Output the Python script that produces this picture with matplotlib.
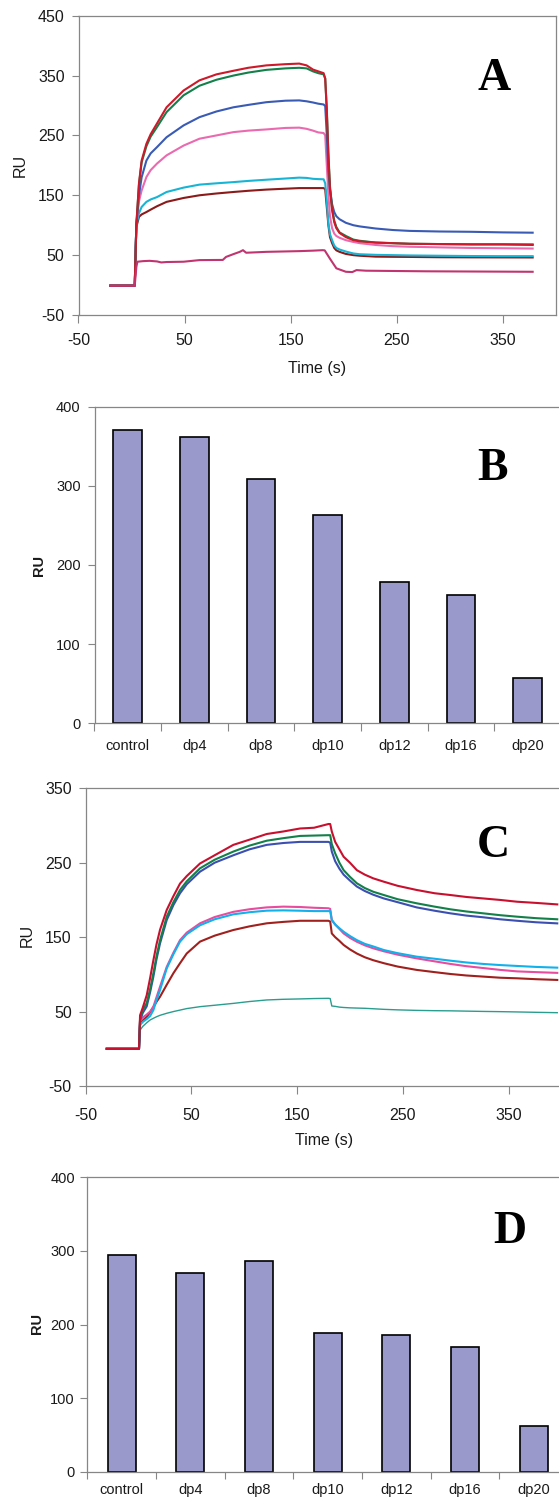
import numpy as np
import matplotlib
matplotlib.use("Agg")
import matplotlib.pyplot as plt

# ---- panel A : sensorgrams (time in s, response in RU)
tA = [-20, 3, 4.5, 7, 9.5, 14, 18, 24, 33, 49, 64, 80, 96, 110, 127, 145, 158, 165, 171, 176,
      181, 182.5, 184, 185.5, 187, 189, 191, 193, 196, 202, 209, 215, 230, 246, 262, 290, 320, 350, 378]
A_red = [-1, -1, 100, 170, 208, 236, 252, 270, 297, 325, 342, 352, 358, 363, 367, 369, 370, 367, 360, 357,
         354, 345, 290, 215, 160, 125, 105, 95, 87, 80, 75, 73, 71, 70, 69, 68.5, 68, 68, 67]
A_green = [-1, -1, 100, 168, 205, 232, 248, 264, 289, 317, 333, 343, 350, 355, 359.5, 362, 363, 362, 357, 354,
           352, 345, 295, 220, 165, 128, 108, 97, 88, 82, 76, 74, 71, 70, 69, 68.5, 68, 68, 68]
A_blue = [-1, -1, 100, 150, 180, 208, 220, 230.5, 247, 266.7, 280.5, 290, 297, 301, 305.5, 308, 308.5, 307, 305, 303,
          301.7, 299, 250, 190, 160, 135, 122, 115, 110, 104, 100, 98, 94.5, 92, 90.5, 89.5, 89, 88, 87.5]
A_pink = [-1, -1, 100, 140, 158, 180.5, 192, 203, 216.7, 233, 244.5, 250, 255.5, 258, 260, 262.5, 263, 261, 258, 255,
          254, 250, 200, 150, 115, 95, 86, 82, 79, 75, 72, 70, 67, 65, 64, 63, 62, 61.5, 61]
A_cyan = [-1, -1, 100, 120, 130.5, 139, 143, 147, 155.5, 162.8, 167.8, 170, 172, 174, 176, 178, 179.5, 179, 177.5, 177,
          176.7, 170, 140, 103, 85, 75, 66, 62, 59.4, 56, 52.8, 51.5, 50.5, 50, 49.5, 49, 48.5, 48.3, 48.3]
A_darkred = [-1, -1, 97, 114, 118, 122, 126, 131.7, 139, 145.5, 150, 153, 155.5, 157.5, 159.5, 161, 162, 162, 162, 162,
             162, 160, 130, 100, 80, 70, 62, 58, 55.5, 52, 50, 49, 47.5, 47.2, 47, 46.5, 46.3, 46.2, 46.1]
tA_low = [-20, 3, 4.5, 5.5, 11, 17, 24, 28, 33, 49, 64, 86, 89, 96, 102, 105, 108, 127, 158, 171,
          180, 182, 187, 193, 202, 208, 212, 221, 278, 378]
A_low = [-1, -1, 30, 39, 40, 40.5, 39.5, 37.8, 38.5, 39, 41.7, 42, 47, 51.7, 55.5, 58.3, 54, 55.5, 56.7, 57.5,
         58.3, 58, 44, 28, 22.2, 21.7, 25, 24, 23, 22.2]

# ---- panel C : sensorgrams
tC = [-30, 0.5, 1.5, 4, 7.8, 11, 14.1, 17, 20.4, 26.7, 33, 39.3, 45.6, 58.2, 72, 89.7, 105, 121.3, 137, 152.8, 166,
      179.6, 181.3, 182.8, 186, 190, 194, 200, 206.5, 214, 222, 232, 245, 263, 280, 295, 310, 326, 342, 358, 376, 396]
C_red = [0, 0, 45, 55, 72, 95, 119, 140, 160, 186.5, 205, 222, 232, 249, 260, 274, 281, 288.6, 292, 296, 297,
         302, 302, 292, 278, 268, 258, 250, 240, 234, 229, 224.5, 219, 213.4, 209, 206.6, 204, 202, 200, 197.6, 196, 194]
C_green = [0, 0, 40, 52, 61.5, 80, 101.5, 124, 146, 177.5, 197, 213.4, 225, 242.5, 254, 265, 273, 279.6, 283, 286, 286.5,
           287, 287, 275, 262.6, 250, 240, 231, 222.4, 216, 211, 206.6, 201, 195.5, 191, 187.4, 184.5, 182, 179.5, 177.5, 175.5, 174]
C_blue = [0, 0, 38, 48, 57, 76, 97, 120, 141.7, 173, 193, 209, 221, 238, 250, 260, 268, 274, 276.5, 278, 278,
          278, 277, 265, 252, 242, 234, 226, 218, 212, 207, 202, 197, 190, 185.5, 182, 179, 176.7, 174, 172, 170, 168.5]
C_pink = [0, 0, 38.7, 42, 46, 50, 56.6, 69, 83.5, 110, 129, 146, 156, 168.6, 177, 184, 187.5, 190, 191, 190.5, 189.5,
          188.8, 188, 173, 167, 161, 155, 149, 143.8, 139, 135, 131, 126.5, 121.5, 117.5, 114, 111, 108.5, 106, 104, 103, 102]
C_cyan = [0, 0, 32, 36, 40, 44, 52, 65, 79, 108, 127, 144, 154, 166, 174, 180.7, 183.5, 185.6, 186, 185.5, 185,
          185, 185, 173, 167, 162, 157.3, 151.5, 146, 141, 137.5, 132.7, 128.5, 123.8, 121, 118.4, 116, 114, 112.5, 111.3, 110, 109]
C_darkred = [0, 0, 34, 38, 43, 49, 56, 63, 70, 86, 101.5, 115, 128, 144, 152, 159.6, 164.5, 168.6, 170.5, 172, 172,
             172, 171, 155, 150, 145, 139.5, 133.5, 128, 123, 119, 115, 110.5, 106, 103, 100.5, 98.5, 97, 95.5, 94.7, 93.5, 92.5]
C_teal = [0, 0, 25, 30, 35, 38.7, 41, 43, 45, 47.7, 50, 52, 54, 56.6, 58.5, 61, 63.5, 65.6, 66.5, 67, 67.5,
          67.8, 67.5, 57.5, 57, 56, 55.5, 55, 54.7, 54.4, 53.8, 53, 52.3, 51.6, 51.2, 51, 50.6, 50.2, 49.9, 49.5, 49, 48.5]

# ---- panels B and D : bar charts
categories = ["control", "dp4", "dp8", "dp10", "dp12", "dp16", "dp20"]
B_values = [370, 362, 309, 263, 179, 162, 57]
D_values = [295, 270, 286, 189, 186, 169, 62]

W, H = 559, 1501
GREY = "#868686"
TXT = "#1a1a1a"
SANS = ["Liberation Sans", "DejaVu Sans"]
SERIF = ["Liberation Serif", "DejaVu Serif"]
plt.rcParams["font.family"] = SANS
plt.rcParams["axes.unicode_minus"] = False


def box(l, t, r, b):
    return [l / W, 1 - b / H, (r - l) / W, (b - t) / H]


def style(ax, fs, xpad, ypad, xlen, ylen):
    for s in ax.spines.values():
        s.set_color(GREY)
        s.set_linewidth(0.9)
    ax.tick_params(axis="x", which="both", direction="out", color=GREY, labelcolor=TXT,
                   labelsize=fs, pad=xpad, length=xlen, width=0.8)
    ax.tick_params(axis="y", which="both", direction="out", color=GREY, labelcolor=TXT,
                   labelsize=fs, pad=ypad, length=ylen, width=0.8)


def ftext(x, y, s, **kw):
    fig.text(x / W, 1 - y / H, s, **kw)


fig = plt.figure(figsize=(W / 100, H / 100), dpi=100)

# ---------------- A
axA = fig.add_axes(box(78.5, 15.7, 556, 315))
for vals, col in [(A_darkred, "#8b1a1a"), (A_cyan, "#18b4d4"), (A_pink, "#ea6aaf"),
                  (A_blue, "#3a5bb5"), (A_green, "#13804a"), (A_red, "#cc1a2a")]:
    axA.plot(tA, vals, color=col, lw=1.5)
axA.plot(tA_low, A_low, color="#c0356f", lw=1.5)
axA.set_xlim(-50, 400)
axA.set_ylim(-50, 450)
axA.set_xticks([-50, 50, 150, 250, 350])
axA.set_yticks(np.arange(-50, 451, 100))
style(axA, 11.5, 7, 5, 6, 5)
ftext(20, 165, "RU", rotation=90, ha="center", va="center", fontsize=11.5, color=TXT)
ftext(317, 368, "Time (s)", ha="center", va="center", fontsize=11.5, color=TXT)
ftext(494, 90, "A", ha="center", va="baseline", fontsize=33, fontweight="bold", family=SERIF)

# ---------------- B
axB = fig.add_axes(box(94.5, 406.7, 561, 723.3))
xB = np.arange(len(categories))
axB.bar(xB, B_values, width=0.43, color="#9999cc", edgecolor="black", linewidth=1.2)
axB.set_xlim(-0.5, len(categories) - 0.5)
axB.set_ylim(0, 400)
axB.set_yticks(np.arange(0, 401, 100))
axB.set_xticks(xB)
axB.set_xticklabels(categories)
axB.set_xticks(np.arange(-0.5, len(categories), 1), minor=True)
style(axB, 10.5, 11, 5, 6, 5)
axB.tick_params(axis="x", which="major", length=0)
ftext(39, 565, "RU", rotation=90, ha="center", va="center", fontsize=10.5, fontweight="bold", color=TXT)
ftext(493, 480, "B", ha="center", va="baseline", fontsize=33, fontweight="bold", family=SERIF)

# ---------------- C
axC = fig.add_axes(box(85.6, 788.3, 563.6, 1086))
for vals, col, lw in [(C_teal, "#2a9d8f", 1.0), (C_darkred, "#a0201e", 1.5), (C_pink, "#e84c9e", 1.5),
                      (C_cyan, "#11b1ec", 1.5), (C_blue, "#3b4fb0", 1.5), (C_green, "#13804a", 1.5),
                      (C_red, "#c8102e", 1.5)]:
    axC.plot(tC, vals, color=col, lw=lw)
axC.set_xlim(-50, 402)
axC.set_ylim(-50, 350)
axC.set_xticks([-50, 50, 150, 250, 350])
axC.set_yticks(np.arange(-50, 351, 100))
style(axC, 11.5, 10, 5, 6, 5)
ftext(27, 935, "RU", rotation=90, ha="center", va="center", fontsize=11.5, color=TXT)
ftext(324, 1140, "Time (s)", ha="center", va="center", fontsize=11.5, color=TXT)
ftext(493.5, 857, "C", ha="center", va="baseline", fontsize=33, fontweight="bold", family=SERIF)

# ---------------- D
axD = fig.add_axes(box(87.4, 1177.3, 568, 1471.7))
xD = np.arange(len(categories))
axD.bar(xD, D_values, width=0.41, color="#9999cc", edgecolor="black", linewidth=1.2)
axD.set_xlim(-0.5, len(categories) - 0.5)
axD.set_ylim(0, 400)
axD.set_yticks(np.arange(0, 401, 100))
axD.set_xticks(xD)
axD.set_xticklabels(categories)
axD.set_xticks(np.arange(-0.5, len(categories), 1), minor=True)
style(axD, 10.5, 8, 4, 5, 5)
axD.tick_params(axis="x", which="major", length=0)
ftext(37.5, 1324, "RU", rotation=90, ha="center", va="center", fontsize=10.5, fontweight="bold", color=TXT)
ftext(510, 1243, "D", ha="center", va="baseline", fontsize=33, fontweight="bold", family=SERIF)

fig.savefig("out.png", dpi=100)
